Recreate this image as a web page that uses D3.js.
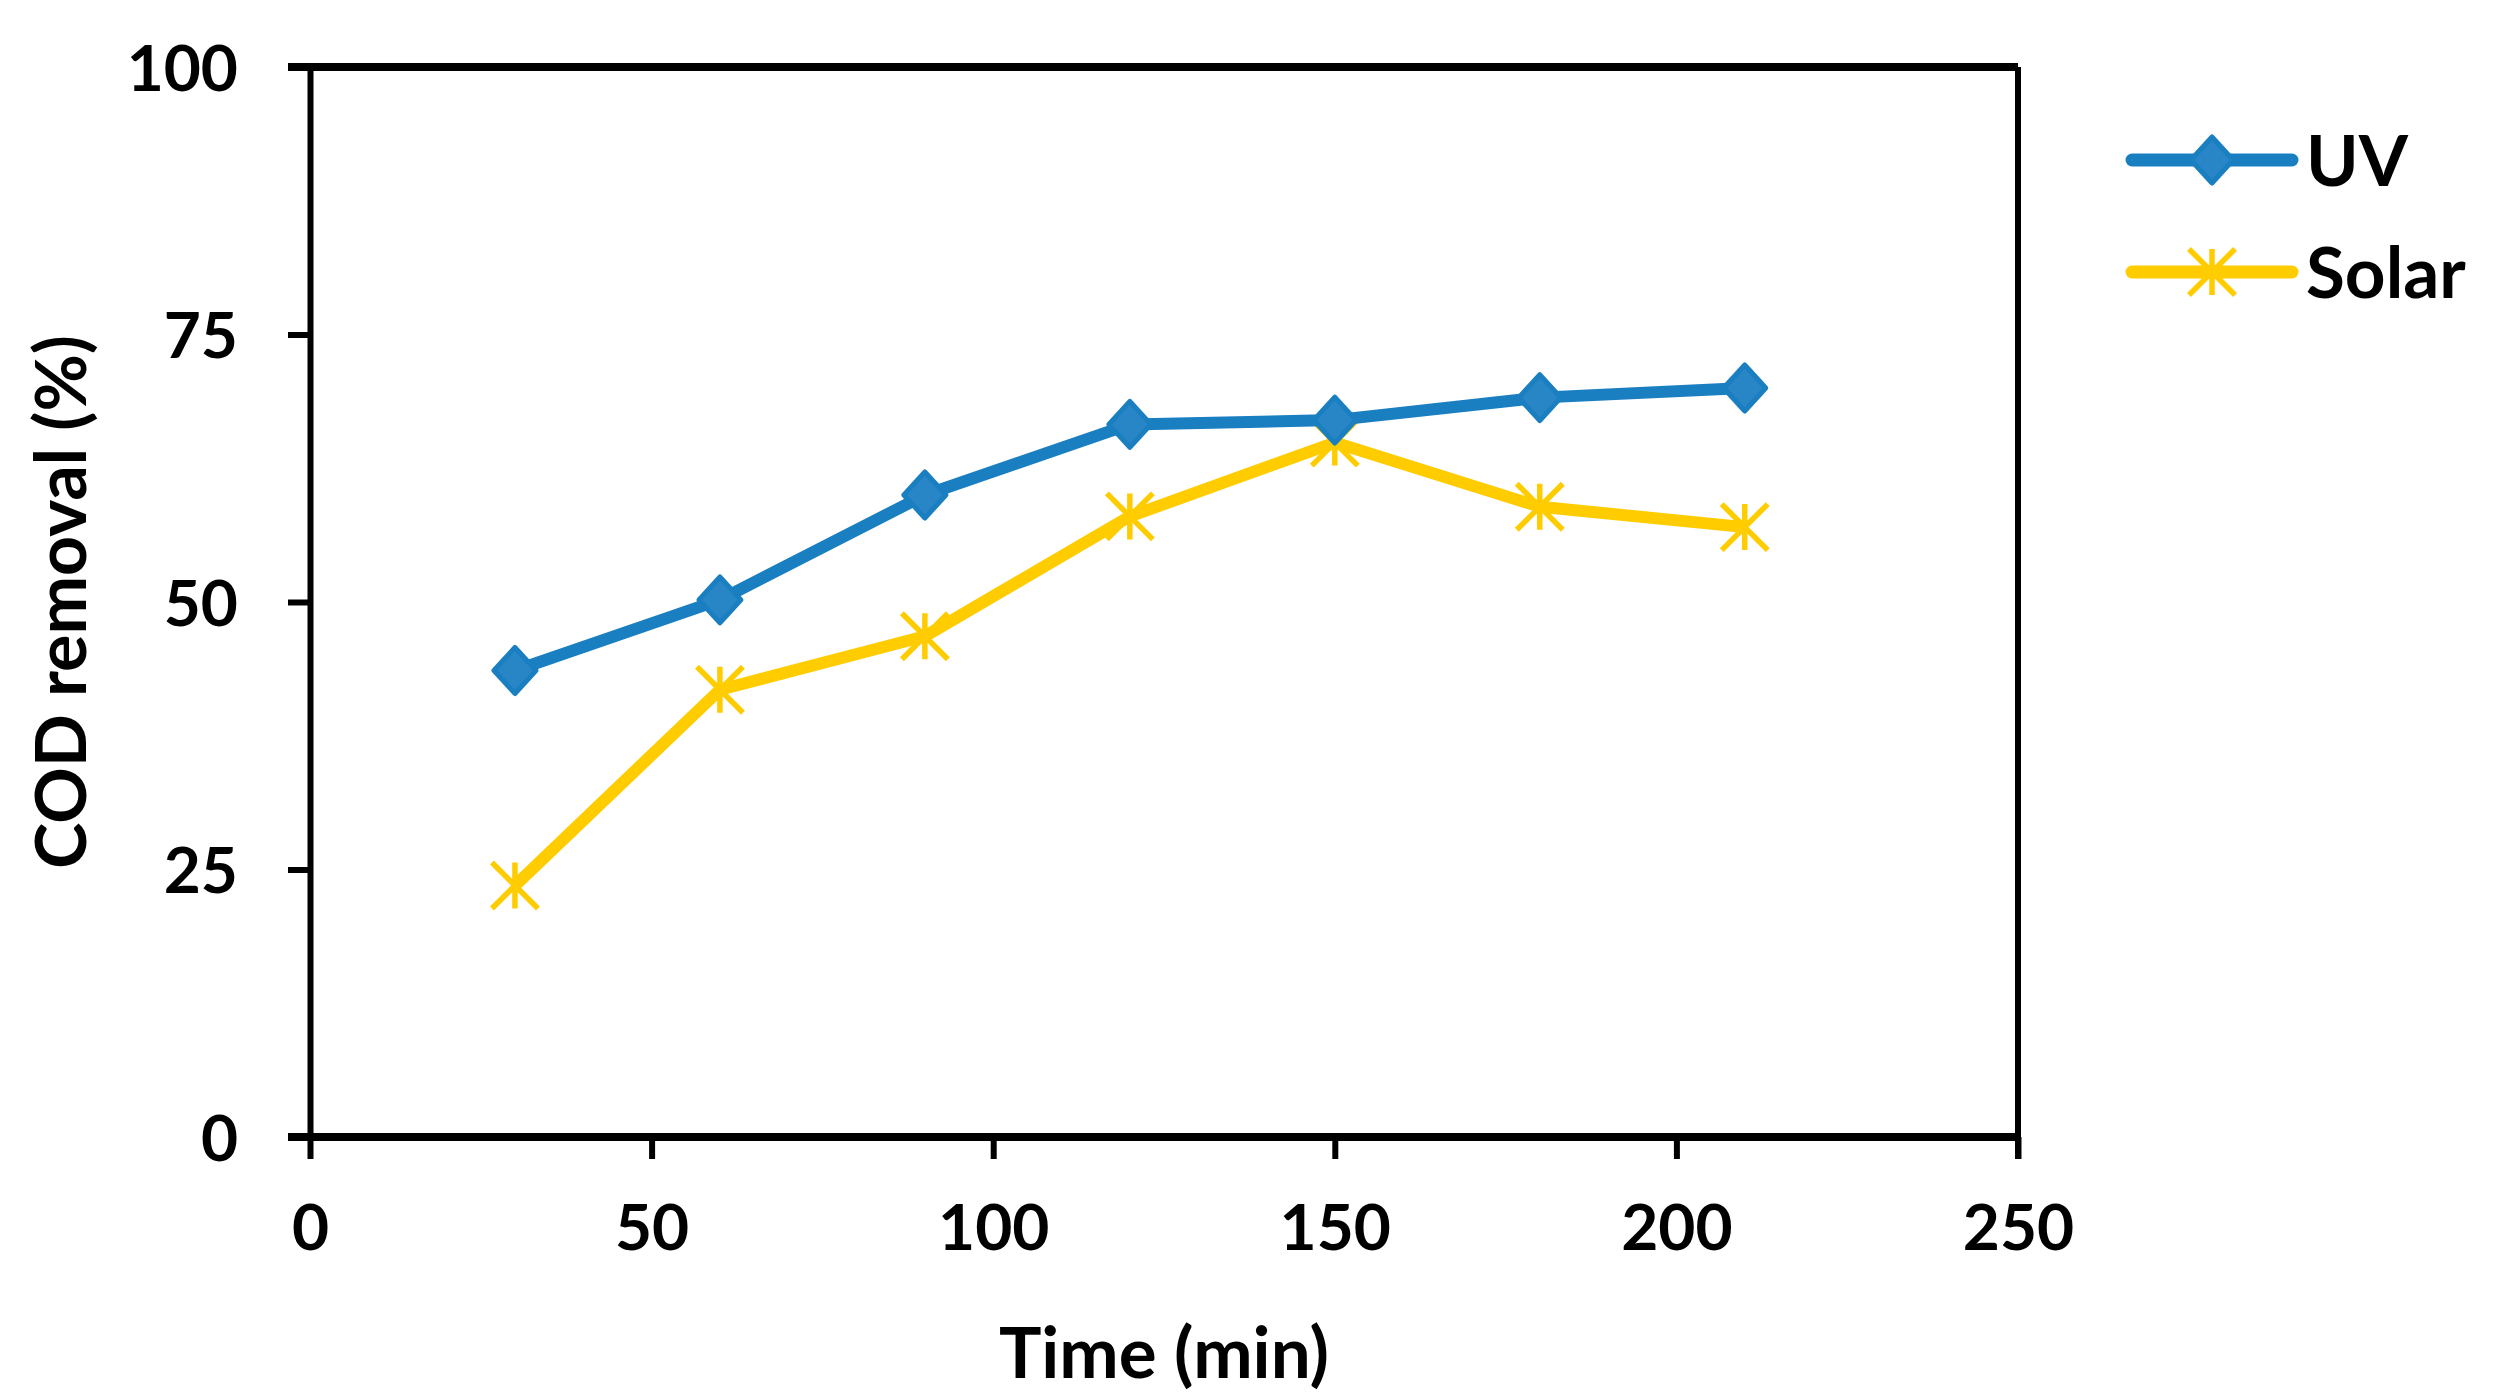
<!DOCTYPE html>
<html>
<head>
<meta charset="utf-8">
<script src="https://d3js.org/d3.v7.min.js"></script>
<style>
  body { margin: 0; background: #fff; }
  text { font-family: Lato, "Open Sans", sans-serif; font-weight: bold; fill: #000; }
</style>
</head>
<body>
<div id="chart"></div>
<script>
// data
const times = [30, 60, 90, 120, 150, 180, 210];
const uvValues = [43.6, 50.2, 60.0, 66.6, 67.0, 69.1, 70.0];
const solarValues = [23.5, 41.8, 46.8, 58.0, 64.9, 58.9, 57.0];
const xTicks = [0, 50, 100, 150, 200, 250];
const yTicks = [0, 25, 50, 75, 100];
const seriesNames = ["UV", "Solar"];

const width = 2509, height = 1393;
const margin = {left: 310, right: 491, top: 67, bottom: 256};
const blue = "#1a7fc1", yellow = "#ffcc00";

const svg = d3.select("#chart").append("svg")
    .attr("width", width)
    .attr("height", height);

const x = d3.scaleLinear().domain([0, 250]).range([margin.left, width - margin.right]);
const y = d3.scaleLinear().domain([0, 100]).range([height - margin.bottom, margin.top]);

// plot box (top + right border)
svg.append("line")
    .attr("x1", x(0) - 22).attr("x2", x(250))
    .attr("y1", y(100)).attr("y2", y(100))
    .attr("stroke", "#000").attr("stroke-width", 8);
svg.append("line")
    .attr("x1", x(250)).attr("x2", x(250))
    .attr("y1", y(100)).attr("y2", y(0) + 22)
    .attr("stroke", "#000").attr("stroke-width", 6);

// axes
const xAxis = svg.append("g")
    .attr("transform", "translate(0," + y(0) + ")")
    .call(d3.axisBottom(x).tickValues(xTicks).tickSize(22).tickPadding(46).tickSizeOuter(0));
const yAxis = svg.append("g")
    .attr("transform", "translate(" + x(0) + ",0)")
    .call(d3.axisLeft(y).tickValues(yTicks).tickSize(22).tickPadding(50).tickSizeOuter(0));

xAxis.select(".domain").attr("stroke-width", 8).attr("d", "M" + (x(0) - 22) + ",0H" + x(250));
yAxis.select(".domain").attr("stroke-width", 6);
svg.selectAll(".tick line").attr("stroke-width", 6);
svg.selectAll(".tick text").style("font-size", "64px").style("font-family", "Lato, sans-serif");
xAxis.selectAll(".tick text").attr("dy", "0.71em");
yAxis.selectAll(".tick text").attr("dy", "0.36em");

// axis titles
svg.append("text")
    .attr("x", (x(0) + x(250)) / 2)
    .attr("y", 1378)
    .attr("text-anchor", "middle")
    .style("font-size", "71px")
    .text("Time (min)");
svg.append("text")
    .attr("transform", "translate(86," + (y(50)) + ") rotate(-90)")
    .attr("text-anchor", "middle")
    .style("font-size", "70px")
    .text("COD removal (%)");

const line = d3.line().x(d => x(d[0])).y(d => y(d[1]));
const uvData = times.map((t, i) => [t, uvValues[i]]);
const solarData = times.map((t, i) => [t, solarValues[i]]);

function diamond(g, cx, cy) {
    g.append("path")
        .attr("d", "M" + cx + "," + (cy - 23) + "L" + (cx + 21) + "," + cy + "L" + cx + "," + (cy + 23) + "L" + (cx - 21) + "," + cy + "Z")
        .attr("fill", "#2886c6")
        .attr("stroke", blue)
        .attr("stroke-width", 5)
        .attr("stroke-linejoin", "round");
}

function star(g, cx, cy) {
    const r = 23;
    g.append("path")
        .attr("d", "M" + cx + "," + (cy - r) + "V" + (cy + r) +
            "M" + (cx - r) + "," + (cy - r) + "L" + (cx + r) + "," + (cy + r) +
            "M" + (cx - r) + "," + (cy + r) + "L" + (cx + r) + "," + (cy - r))
        .attr("fill", "none")
        .attr("stroke", yellow)
        .attr("stroke-width", 5.5);
}

svg.append("path").datum(solarData)
    .attr("d", line).attr("fill", "none")
    .attr("stroke", yellow).attr("stroke-width", 12)
    .attr("stroke-linejoin", "round");
const solarMarks = svg.append("g");
solarData.forEach(d => star(solarMarks, x(d[0]), y(d[1])));

svg.append("path").datum(uvData)
    .attr("d", line).attr("fill", "none")
    .attr("stroke", blue).attr("stroke-width", 12)
    .attr("stroke-linejoin", "round");
const uvMarks = svg.append("g");
uvData.forEach(d => diamond(uvMarks, x(d[0]), y(d[1])));

// legend
const legend = svg.append("g");
const legY = [160, 272];
const colors = [blue, yellow];
seriesNames.forEach((name, i) => {
    legend.append("line")
        .attr("x1", 2132).attr("x2", 2292)
        .attr("y1", legY[i]).attr("y2", legY[i])
        .attr("stroke", colors[i]).attr("stroke-width", 13)
        .attr("stroke-linecap", "round");
    if (i === 0) diamond(legend, 2212, legY[i]);
    else star(legend, 2212, legY[i]);
    legend.append("text")
        .attr("x", 2306).attr("y", legY[i])
        .attr("dy", "0.36em")
        .style("font-size", "71px")
        .text(name);
});
</script>
</body>
</html>
